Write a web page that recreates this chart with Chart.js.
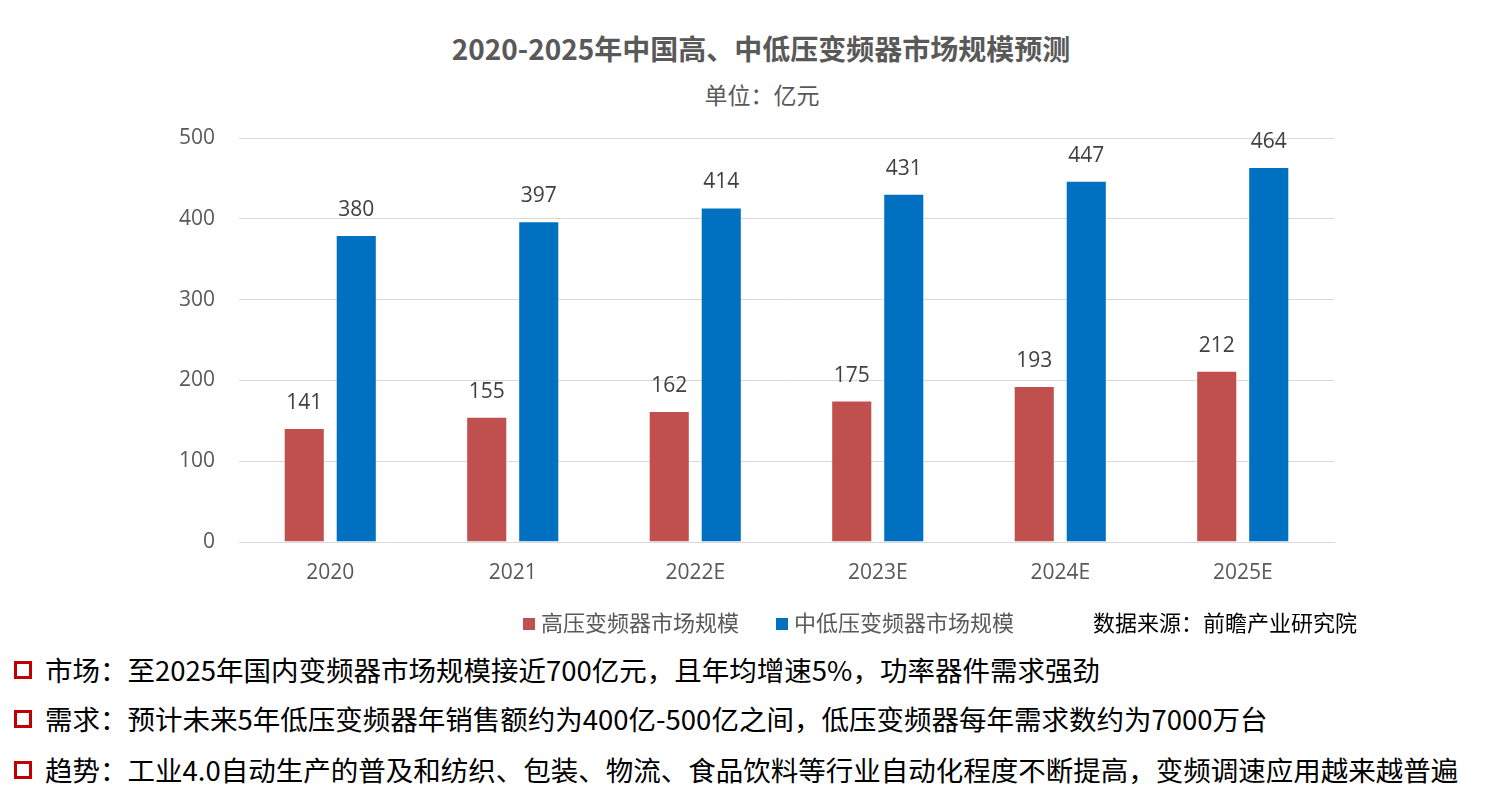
<!DOCTYPE html>
<html>
<head>
<meta charset="utf-8">
<script src="https://cdn.jsdelivr.net/npm/chart.js@4.4.1/dist/chart.umd.min.js"></script>
<style>
  body { margin: 0; background: #fff; width: 1501px; height: 793px; overflow: hidden; position: relative;
         font-family: "Noto Sans CJK SC", "Open Sans", sans-serif; }
  #chart-wrap { position: absolute; left: 0; top: 0; width: 1501px; height: 620px; }
  .abs { position: absolute; white-space: nowrap; }
  .title { left: 0; width: 1522px; text-align: center; top: 28px; font-size: 28px; font-weight: bold; color: #595959; line-height: 40px; }
  .subtitle { left: 0; width: 1524px; text-align: center; top: 78px; font-size: 23px; color: #595959; line-height: 32px; }
  .legend { top: 606px; font-size: 22px; color: #595959; line-height: 30px; }
  .legend i { display: inline-block; width: 12px; height: 12px; margin-right: 6px; vertical-align: 1px; }
  .source { top: 606px; left: 1093px; font-size: 22px; color: #000; line-height: 30px; }
  .bullet { left: 14px; font-size: 27.5px; color: #000; line-height: 36px; }
  .bullet i { display: inline-block; width: 12px; height: 12px; border: 3px solid #C00000; margin-right: 13px; vertical-align: 2px; }
</style>
</head>
<body>
<div class="abs title">2020-2025年中国高、中低压变频器市场规模预测</div>
<div class="abs subtitle">单位：亿元</div>
<div id="chart-wrap"><canvas id="barChart"></canvas></div>
<div class="abs legend" style="left:523px"><i style="background:#C0504D"></i>高压变频器市场规模</div>
<div class="abs legend" style="left:776px"><i style="background:#0070C0"></i>中低压变频器市场规模</div>
<div class="abs source">数据来源：前瞻产业研究院</div>
<div class="abs bullet" style="top:651px"><i></i>市场：至2025年国内变频器市场规模接近700亿元，且年均增速5%，功率器件需求强劲</div>
<div class="abs bullet" style="top:700px"><i></i>需求：预计未来5年低压变频器年销售额约为400亿-500亿之间，低压变频器每年需求数约为7000万台</div>
<div class="abs bullet" style="top:751px"><i></i>趋势：工业4.0自动生产的普及和纺织、包装、物流、食品饮料等行业自动化程度不断提高，变频调速应用越来越普遍</div>

<script>
// chart data
const years = ['2020', '2021', '2022E', '2023E', '2024E', '2025E'];
const highVoltage = [141, 155, 162, 175, 193, 212];
const midLowVoltage = [380, 397, 414, 431, 447, 464];
const yTicks = [0, 100, 200, 300, 400, 500];

const numFont = '"Open Sans", "Noto Sans CJK SC", sans-serif';

// Draws the value above every bar
const barValueLabels = {
  id: 'barValueLabels',
  afterDatasetsDraw(chart) {
    const ctx = chart.ctx;
    ctx.save();
    ctx.font = `21px ${numFont}`;
    ctx.fillStyle = '#404040';
    ctx.textAlign = 'center';
    ctx.textBaseline = 'alphabetic';
    chart.data.datasets.forEach((ds, i) => {
      chart.getDatasetMeta(i).data.forEach((bar, j) => {
        ctx.fillText(String(ds.data[j]), bar.x, bar.y - 19);
      });
    });
    ctx.restore();
  }
};

const ctx = document.getElementById('barChart').getContext('2d');
new Chart(ctx, {
  type: 'bar',
  data: {
    labels: years,
    datasets: [
      {
        label: '高压变频器市场规模',
        data: highVoltage,
        backgroundColor: '#C0504D',
        borderColor: 'rgba(255, 255, 255, 0.35)',
        borderWidth: 1
      },
      {
        label: '中低压变频器市场规模',
        data: midLowVoltage,
        backgroundColor: '#0070C0',
        borderColor: 'rgba(255, 255, 255, 0.35)',
        borderWidth: 1
      }
    ]
  },
  options: {
    responsive: true,
    maintainAspectRatio: false,
    animation: false,
    categoryPercentage: 0.57,
    barPercentage: 0.79,
    layout: { padding: { left: 159, right: 167, top: 138, bottom: 28 } },
    plugins: {
      legend: { display: false },
      tooltip: { enabled: false }
    },
    scales: {
      x: {
        grid: { display: false, drawTicks: false },
        border: { display: true, color: '#d9d9d9', width: 1 },
        ticks: { color: '#595959', font: { family: numFont, size: 21 }, padding: 18 },
        afterFit: (s) => { s.height = 50; }
      },
      y: {
        min: 0,
        max: 500,
        afterBuildTicks: (s) => { s.ticks = yTicks.map(v => ({ value: v })); },
        grid: { color: '#d9d9d9', lineWidth: 1, drawTicks: false },
        border: { display: false },
        ticks: { color: '#595959', font: { family: numFont, size: 21 }, padding: 24 },
        afterFit: (s) => { s.width = 80; }
      }
    }
  },
  plugins: [barValueLabels]
});
</script>
</body>
</html>
